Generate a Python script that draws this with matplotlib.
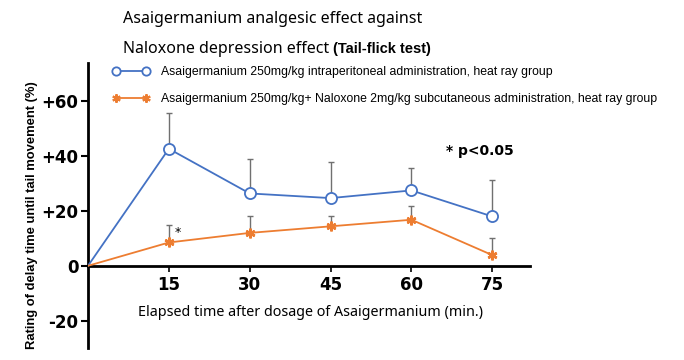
import matplotlib
matplotlib.use("Agg")
import matplotlib.pyplot as plt
from matplotlib.lines import Line2D

# values
minutes = [0, 15, 30, 45, 60, 75]
heat_ray = [0, 42.7, 26.4, 24.7, 27.5, 18.0]
heat_ray_err = [0, 12.9, 12.6, 13.3, 8.1, 13.4]
naloxone = [0, 8.5, 12.0, 14.4, 16.8, 3.9]
naloxone_err = [0, 6.4, 6.3, 3.6, 4.9, 6.1]

y_ticks = [-20, 0, 20, 40, 60]
y_ticklabels = ["-20", "0", "+20", "+40", "+60"]
x_ticks = [15, 30, 45, 60, 75]

label_blue = "Asaigermanium 250mg/kg intraperitoneal administration, heat ray group"
label_orange = "Asaigermanium 250mg/kg+ Naloxone 2mg/kg subcutaneous administration, heat ray group"

blue = "#4472C4"
orange = "#ED7D31"
arial = ["Liberation Sans", "DejaVu Sans"]
noto = ["Noto Sans", "DejaVu Sans"]

fig = plt.figure(figsize=(6.84, 3.6), dpi=100)
ax = fig.add_axes([88 / 684, 1 - 348 / 360, (530 - 88) / 684, (348 - 63) / 360])

# one-sided (upper) error bars
zeros = [0] * (len(minutes) - 1)
ax.errorbar(minutes[1:], heat_ray[1:], yerr=[zeros, heat_ray_err[1:]], fmt="none",
            ecolor="#707070", elinewidth=1, capsize=2, capthick=1, zorder=1)
ax.errorbar(minutes[1:], naloxone[1:], yerr=[zeros, naloxone_err[1:]], fmt="none",
            ecolor="#707070", elinewidth=1, capsize=2, capthick=1, zorder=1)

ax.plot(minutes, heat_ray, color=blue, lw=1.3, zorder=3)
ax.plot(minutes[1:], heat_ray[1:], "o", ms=8, mfc="white", mec=blue, mew=1.3, zorder=4)
ax.plot(minutes, naloxone, color=orange, lw=1.3, zorder=3)
ax.plot(minutes[1:], naloxone[1:], marker=(6, 2, 0), ls="none", ms=7, mec=orange,
        mew=1.8, zorder=4)

ax.set_xlim(0, 82)
ax.set_ylim(-30, 74)
for s in ["top", "right"]:
    ax.spines[s].set_visible(False)
ax.spines["bottom"].set_position(("data", 0))
ax.spines["left"].set_linewidth(2)
ax.spines["bottom"].set_linewidth(2)

ax.set_yticks(y_ticks)
ax.set_yticklabels(y_ticklabels, fontweight="bold", fontsize=12)
ax.set_xticks(x_ticks)
ax.set_xticklabels([str(t) for t in x_ticks], fontweight="bold", fontsize=12)
ax.tick_params(axis="y", length=5, width=1.5, pad=2)
ax.tick_params(axis="x", length=4, width=1.2, pad=3)

ax.text(16.1, 12.1, "*", fontsize=9, ha="left", va="center")
ax.text(66.5, 42, "* p<0.05", fontsize=10, fontweight="bold", ha="left", va="center")

# legend
handles = [
    Line2D([], [], color=blue, lw=1.3, marker="o", ms=6, mfc="white", mec=blue,
           mew=1.3, markevery=[0, -1]),
    Line2D([], [], color=orange, lw=1.3, marker=(6, 2, 0), ms=6, mec=orange,
           mew=1.5, markevery=[0, -1]),
]
fig.legend(handles, [label_blue, label_orange], loc="upper left",
           bbox_to_anchor=(112 / 684, 1 - 66 / 360), frameon=False,
           prop={"family": arial, "size": 8.8}, handlelength=3.1,
           handletextpad=0.9, labelspacing=1.25, borderpad=0, borderaxespad=0,
           numpoints=2)

# titles
t1 = fig.text(123 / 684, 1 - 19 / 360, "Asaigermanium analgesic effect against",
              fontsize=11.5, family=noto, va="center")
t2 = fig.text(123 / 684, 1 - 49 / 360, "Naloxone depression effect ",
              fontsize=11.5, family=noto, va="center")
fig.canvas.draw()
ax.annotate("(Tail-flick test)", xy=(1, 0.5), xycoords=t2, va="center",
            fontsize=10.5, fontweight="bold", family=arial)

fig.text(32 / 684, 1 - 215 / 360, "Rating of delay time until tail movement (%)",
         rotation=90, ha="center", va="center", fontsize=9.4, fontweight="bold",
         family=arial)
fig.text(310 / 684, 1 - 313 / 360, "Elapsed time after dosage of Asaigermanium (min.)",
         ha="center", va="center", fontsize=10.3, family=noto)

fig.savefig("out.png", dpi=100)
